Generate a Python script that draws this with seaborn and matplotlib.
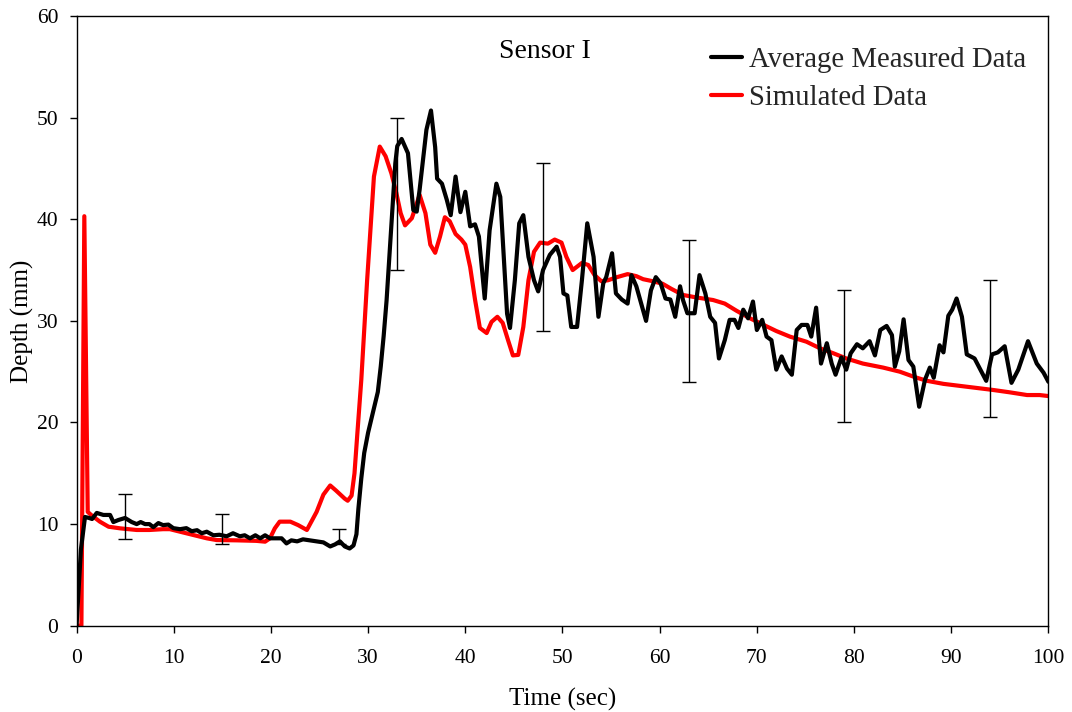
import matplotlib
matplotlib.use("Agg")
import matplotlib.pyplot as plt
import numpy as np
import pandas as pd
import seaborn as sns

# Average measured depth at Sensor I (time in s, depth in mm)
measured_time = [
    0, 0.15, 0.45, 0.87, 1.3, 1.6, 2.08, 2.76, 3.45, 3.79, 4.3, 4.99, 5.68, 6.19,
    6.6, 7.05, 7.5, 7.9, 8.42, 8.9, 9.45, 9.96, 10.65, 11.3, 11.85, 12.4, 12.88,
    13.4, 14.08, 14.7, 15.45, 16.1, 16.8, 17.3, 17.85, 18.4, 18.9, 19.4, 19.9,
    20.5, 21.1, 21.6, 22.1, 22.7, 23.3, 24.0, 24.7, 25.4, 26.1, 26.6, 27.1, 27.6,
    28.1, 28.5, 28.8, 29.0, 29.3, 29.6, 30.0, 30.5, 31.0, 31.3, 31.6, 31.9, 32.2,
    32.5, 32.8, 33.0, 33.45, 34.1, 34.65, 35.0, 35.3, 36.0, 36.47, 36.9, 37.1,
    37.6, 38.1, 38.5, 39.0, 39.5, 40.0, 40.5, 41.0, 41.4, 42.0, 42.5, 43.2, 43.6,
    44.3, 44.6, 45.1, 45.55, 45.97, 46.5, 47.07, 47.5, 48.0, 48.7, 49.4, 49.75,
    50.1, 50.5, 50.9, 51.5, 52.0, 52.55, 53.2, 53.7, 54.2, 54.5, 55.1, 55.5,
    56.1, 56.7, 57.1, 57.6, 58.6, 59.1, 59.6, 60.1, 60.6, 61.1, 61.6, 62.1, 62.4,
    62.85, 63.6, 64.1, 64.7, 65.2, 65.7, 66.1, 66.7, 67.2, 67.7, 68.1, 68.6,
    69.1, 69.6, 70.0, 70.55, 71.0, 71.5, 72.0, 72.55, 73.1, 73.6, 74.1, 74.6,
    75.2, 75.6, 76.1, 76.6, 77.2, 77.7, 78.1, 78.7, 79.2, 79.65, 80.3, 80.9,
    81.6, 82.15, 82.7, 83.35, 83.9, 84.2, 84.65, 85.1, 85.6, 86.1, 86.7, 87.3,
    87.8, 88.2, 88.8, 89.2, 89.7, 90.1, 90.55, 91.1, 91.6, 92.4, 92.95, 93.6,
    94.2, 94.8, 95.5, 96.2, 96.9, 97.9, 98.8, 99.5, 100.0,
]
measured_depth = [
    0, 2.5, 7.5, 10.7, 10.6, 10.5, 11.1, 10.9, 10.9, 10.2, 10.4, 10.6, 10.2, 10.0,
    10.2, 10.0, 10.0, 9.7, 10.1, 9.9, 9.95, 9.6, 9.5, 9.6, 9.3, 9.4, 9.1,
    9.25, 8.9, 8.95, 8.8, 9.1, 8.8, 8.9, 8.6, 8.9, 8.6, 8.9, 8.6,
    8.6, 8.6, 8.1, 8.4, 8.3, 8.5, 8.4, 8.3, 8.2, 7.8, 8.0, 8.3, 7.8,
    7.6, 7.9, 9.0, 11.5, 14.5, 17.0, 19.0, 21.0, 23.0, 25.5, 28.5, 32.0, 36.5,
    41.0, 45.5, 47.2, 47.9, 46.5, 40.9, 40.75, 42.9, 48.8, 50.7, 47.1, 44.0,
    43.5, 41.9, 40.4, 44.2, 40.7, 42.7, 39.3, 39.5, 38.3, 32.2, 38.9, 43.5, 42.2,
    30.7, 29.3, 34.0, 39.6, 40.4, 36.3, 34.0, 32.9, 35.0, 36.5, 37.3, 36.3,
    32.7, 32.5, 29.4, 29.4, 34.0, 39.6, 36.3, 30.4, 33.7, 34.3, 36.65, 32.7,
    32.1, 31.7, 34.5, 33.4, 30.0, 33.0, 34.3, 33.7, 32.2, 32.1, 30.4, 33.4, 32.05,
    30.75, 30.75, 34.5, 32.7, 30.4, 29.8, 26.3, 28.1, 30.1, 30.1, 29.3, 31.1,
    30.25, 31.9, 29.1, 30.1, 28.45, 28.1, 25.2, 26.5, 25.3, 24.7, 29.1, 29.6,
    29.6, 28.45, 31.3, 25.8, 27.8, 25.8, 24.7, 26.4, 25.2, 26.8, 27.7, 27.3,
    28.0, 26.6, 29.1, 29.5, 28.6, 25.5, 27.0, 30.15, 26.15, 25.5, 21.55, 24.2,
    25.4, 24.4, 27.6, 26.9, 30.5, 31.1, 32.2, 30.4, 26.7, 26.3, 25.3, 24.1,
    26.7, 26.9, 27.5, 23.9, 25.2, 28.0, 25.8, 24.9, 24.0,
]

# Simulated depth at Sensor I
simulated_time = [
    0, 0.5, 0.8, 1.15, 1.5, 2.4, 3.3, 4.5, 6.2, 7.5, 8.9, 9.6, 10.65, 12.0, 13.4,
    14.4, 16.5, 18.5, 19.4, 19.9, 20.4, 20.9, 22.0, 22.8, 23.7, 24.7, 25.4, 26.1,
    26.7, 27.6, 27.9, 28.3, 28.6, 28.9, 29.3, 29.9, 30.6, 31.2, 31.8, 32.4, 32.9,
    33.35, 33.8, 34.5, 35.3, 35.9, 36.4, 36.9, 37.4, 37.9, 38.4, 39.0, 39.6, 40.0,
    40.5, 41.0, 41.5, 42.2, 42.7, 43.3, 43.85, 44.4, 44.9, 45.45, 45.97, 46.5,
    47.07, 47.7, 48.5, 49.2, 49.9, 50.4, 51.05, 52.0, 52.65, 53.3, 54.0, 54.7,
    55.6, 56.7, 57.6, 58.3, 59.3, 60.3, 61.2, 62.4, 63.8, 65.5, 66.7, 67.9, 69.3,
    70.7, 72.0, 73.4, 75.1, 76.5, 77.9, 79.2, 80.9, 83.0, 84.7, 86.3, 87.5, 89.2,
    90.9, 92.6, 94.3, 96.0, 97.8, 99.1, 100.0,
]
simulated_depth = [
    0, 0, 40.3, 11.2, 10.9, 10.24, 9.74, 9.58, 9.42, 9.42, 9.5, 9.5, 9.25, 8.93, 8.6,
    8.43, 8.4, 8.35, 8.27, 8.6, 9.58, 10.24, 10.24, 9.9, 9.42, 11.2, 12.9, 13.8,
    13.3, 12.5, 12.3, 12.8, 15.0, 19.0, 24.2, 34.0, 44.2, 47.15, 46.2, 44.5, 42.6,
    40.6, 39.4, 40.1, 42.4, 40.6, 37.5, 36.7, 38.3, 40.2, 39.8, 38.55, 38.0, 37.5,
    35.3, 32.1, 29.3, 28.8, 29.9, 30.4, 29.8, 28.1, 26.6, 26.65, 29.4, 34.0,
    36.8, 37.7, 37.6, 38.0, 37.7, 36.3, 35.0, 35.7, 35.5, 34.5, 33.9, 34.0,
    34.3, 34.6, 34.4, 34.1, 33.9, 33.65, 33.15, 32.55, 32.3, 32.05, 31.7, 31.0, 30.25,
    29.6, 29.0, 28.45, 27.95, 27.3, 26.8, 26.3, 25.8, 25.4, 25.0, 24.45, 24.1, 23.8,
    23.6, 23.4, 23.2, 22.97, 22.7, 22.7, 22.6,
]

# Spread of the measurements at selected times
err_time = [5, 15, 27, 33, 48, 63, 79, 94]
err_low = [8.5, 8.0, 8.0, 35.0, 29.0, 24.0, 20.0, 20.5]
err_high = [13.0, 11.0, 9.5, 50.0, 45.5, 38.0, 33.0, 34.0]

x_ticks = [0, 10, 20, 30, 40, 50, 60, 70, 80, 90, 100]
y_ticks = [0, 10, 20, 30, 40, 50, 60]

sns.set_theme(style="ticks")
plt.rcParams["font.family"] = ["Liberation Serif", "DejaVu Serif"]

fig = plt.figure(figsize=(10.72, 7.12), dpi=100)
ax = fig.add_axes([0.0714, 0.1212, 0.9066, 0.8563])

measured = pd.DataFrame({"time": measured_time, "depth": measured_depth})
simulated = pd.DataFrame({"time": simulated_time, "depth": simulated_depth})

sns.lineplot(data=measured, x="time", y="depth", ax=ax, color="black",
             linewidth=3.0, sort=False, estimator=None,
             label="Average Measured Data", zorder=3)
sns.lineplot(data=simulated, x="time", y="depth", ax=ax, color="#ff0000",
             linewidth=3.0, sort=False, estimator=None,
             label="Simulated Data", zorder=2)
for ln in ax.get_lines():
    ln.set_solid_joinstyle("round")
    ln.set_solid_capstyle("round")

centers = [(lo + hi) / 2 for lo, hi in zip(err_low, err_high)]
half = [(hi - lo) / 2 for lo, hi in zip(err_low, err_high)]
ax.errorbar(err_time, centers, yerr=half, fmt="none", ecolor="black",
            elinewidth=1.0, capsize=5, capthick=1.0, zorder=4)

ax.set_xlim(0, 100)
ax.set_ylim(0, 60)
ax.set_xticks(x_ticks)
ax.set_yticks(y_ticks)
ax.tick_params(axis="both", direction="out", length=5, width=1,
               colors="black", labelsize=15.5)
ax.tick_params(axis="x", pad=12)
ax.tick_params(axis="y", pad=8)
for side in ["top", "right", "bottom", "left"]:
    ax.spines[side].set_visible(True)
    ax.spines[side].set_color("black")
    ax.spines[side].set_linewidth(1.0)

ax.set_xlabel("Time (sec)", fontsize=18, color="black", labelpad=14)
ax.set_ylabel("Depth (mm)", fontsize=18, color="black", labelpad=2)

ax.text(48.2, 56.55, "Sensor I", fontsize=20, ha="center", va="center",
        color="black")

ax.legend(loc="upper left", bbox_to_anchor=(0.653, 0.949), frameon=False,
          fontsize=20.7, handlelength=1.08, handletextpad=0.25,
          borderaxespad=0, borderpad=0, labelspacing=0.42)

fig.savefig("out.png", dpi=100)
